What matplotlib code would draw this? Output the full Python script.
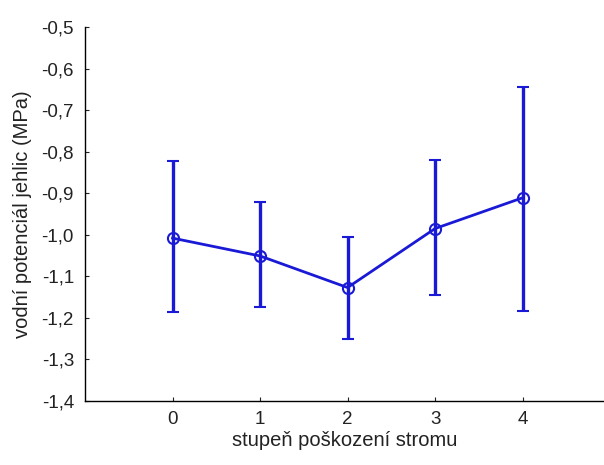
import matplotlib
matplotlib.use("Agg")
import matplotlib.pyplot as plt
from matplotlib.ticker import FuncFormatter

categories = [0, 1, 2, 3, 4]
means = [-1.008, -1.051, -1.127, -0.985, -0.911]
upper = [-0.823, -0.920, -1.006, -0.820, -0.644]
lower = [-1.186, -1.174, -1.251, -1.145, -1.183]

plt.rcParams['font.family'] = ['Liberation Sans', 'DejaVu Sans']

fig = plt.figure(figsize=(6.04, 4.65), dpi=100)
ax = fig.add_axes([85/604, 64/465, 1 - 85/604, (401-27)/465])

yerr = [[m - l for m, l in zip(means, lower)], [u - m for m, u in zip(means, upper)]]
color = '#1a1ad6'
ax.errorbar(categories, means, yerr=yerr, color=color, lw=2.0, elinewidth=2.4,
            capsize=4, capthick=2.0, marker='o', markersize=8,
            markerfacecolor='none', markeredgecolor=color, markeredgewidth=1.5)

ax.set_xlim(-1, 4.93)
ax.set_ylim(-1.4, -0.5)
ax.set_xticks(categories)
ax.set_yticks([-1.4 + 0.1*i for i in range(10)])
ax.yaxis.set_major_formatter(FuncFormatter(lambda v, p: f"{v:.1f}".replace('.', ',')))
ax.spines['top'].set_visible(False)
ax.spines['right'].set_visible(False)
ax.spines['left'].set_linewidth(1.0)
ax.spines['bottom'].set_linewidth(1.0)
ax.tick_params(direction='in', length=3, width=0.8, labelsize=13.5, colors='#222222')
ax.tick_params(axis='x', pad=7)
ax.tick_params(axis='y', pad=8)
ax.set_xlabel('stupeň poškození stromu', fontsize=14.5, labelpad=2, color='#222222')
ax.set_ylabel('vodní potenciál jehlic (MPa)', fontsize=14.5, labelpad=7, color='#222222')

fig.savefig('out.png', dpi=100)
